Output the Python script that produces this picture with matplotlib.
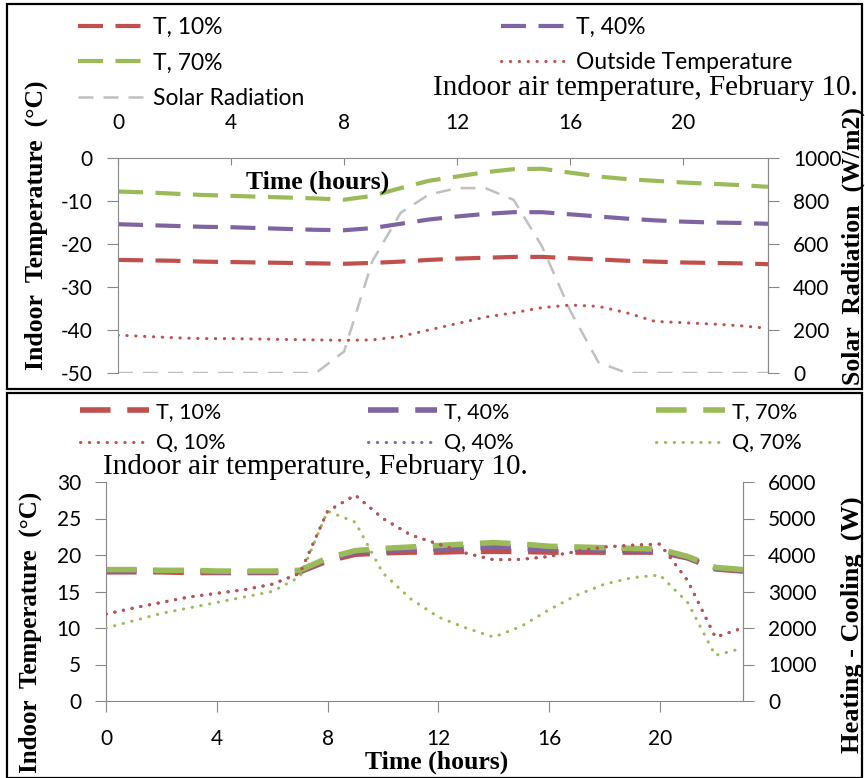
import matplotlib
matplotlib.use("Agg")
import matplotlib.pyplot as plt
from matplotlib.patches import Rectangle

# hourly data, February 10
hours = list(range(24))

# top panel: indoor temperature (°C) for 3 glazing ratios, outside temp, solar radiation
t10_top = [-23.7, -23.8, -23.9, -24.1, -24.2, -24.3, -24.4, -24.5, -24.6, -24.4, -24.1, -23.7,
           -23.4, -23.2, -23.0, -23.0, -23.3, -23.6, -23.9, -24.1, -24.3, -24.4, -24.5, -24.7]
t40_top = [-15.4, -15.6, -15.8, -16.0, -16.1, -16.3, -16.5, -16.7, -16.8, -16.3, -15.3, -14.3,
           -13.6, -13.0, -12.6, -12.6, -13.1, -13.6, -14.1, -14.5, -14.8, -15.0, -15.1, -15.3]
t70_top = [-7.8, -8.0, -8.3, -8.6, -8.8, -9.0, -9.2, -9.4, -9.7, -8.8, -7.0, -5.3,
           -4.3, -3.3, -2.6, -2.5, -3.4, -4.3, -4.9, -5.3, -5.7, -6.0, -6.3, -6.7]
outside = [-41.2, -41.5, -41.8, -42.0, -42.0, -42.1, -42.2, -42.3, -42.4, -42.3, -41.5, -40.0,
           -38.5, -37.0, -36.0, -34.8, -34.2, -34.5, -36.0, -38.0, -38.3, -38.6, -39.0, -39.6]
solar = [0, 0, 0, 0, 0, 0, 0, 0, 100, 520, 745, 830,
         860, 860, 805, 590, 290, 50, 0, 0, 0, 0, 0, 0]

# bottom panel: indoor temperature (°C) and heating - cooling load (W)
t10_bot = [17.7, 17.7, 17.7, 17.6, 17.6, 17.6, 17.6, 17.7, 19.2, 20.1, 20.3, 20.4,
           20.4, 20.5, 20.5, 20.5, 20.4, 20.4, 20.4, 20.4, 20.4, 19.6, 18.1, 17.8]
t40_bot = [17.9, 17.9, 17.8, 17.8, 17.7, 17.7, 17.7, 17.8, 19.4, 20.4, 20.6, 20.8,
           20.9, 21.0, 21.1, 21.0, 20.8, 20.8, 20.7, 20.7, 20.6, 19.7, 18.2, 17.9]
t70_bot = [18.0, 18.0, 17.9, 17.9, 17.8, 17.8, 17.8, 17.9, 19.6, 20.6, 20.9, 21.1,
           21.3, 21.5, 21.7, 21.5, 21.2, 21.1, 21.0, 20.9, 20.8, 19.8, 18.3, 18.0]
q10 = [2380, 2550, 2700, 2850, 2950, 3050, 3200, 3500, 5200, 5640, 5000, 4550,
       4300, 4050, 3870, 3880, 3960, 4100, 4220, 4270, 4300, 3300, 1750, 2000]
q40 = [2380, 2550, 2700, 2850, 2950, 3050, 3200, 3500, 5200, 5640, 5000, 4550,
       4300, 4050, 3870, 3880, 3960, 4100, 4220, 4270, 4300, 3300, 1750, 2000]
q70 = [2000, 2200, 2400, 2550, 2700, 2850, 3000, 3400, 5200, 4900, 3500, 2800,
       2300, 2000, 1750, 2050, 2500, 2900, 3200, 3380, 3450, 2700, 1250, 1450]

x_ticks = [0, 4, 8, 12, 16, 20]
title = "Indoor air temperature, February 10."

RED, PURPLE, GREEN, GRAY = "#C0504D", "#8064A2", "#9BBB59", "#C0C0C0"
AXC = "#888888"
SANS = ["Lato", "DejaVu Sans"]
SERIF = ["Liberation Serif", "DejaVu Serif"]

plt.rcParams["font.family"] = SANS
plt.rcParams["axes.unicode_minus"] = False

W, H = 865, 778
fig = plt.figure(figsize=(W / 100, H / 100), dpi=100)


def px_rect(l, t, r, b):
    return [l / W, 1 - b / H, (r - l) / W, (b - t) / H]


def fx(x):
    return x / W


def fy(y):
    return 1 - y / H


# panel frames
fig.patches.append(Rectangle((fx(7), fy(389)), 855 / W, 385 / H, transform=fig.transFigure,
                             fill=False, ec="black", lw=1.6))
fig.patches.append(Rectangle((fx(7), fy(778)), 855 / W, 385 / H, transform=fig.transFigure,
                             fill=False, ec="black", lw=1.6))

dash_t = dict(lw=3, dashes=(6, 3))
dot = dict(lw=2.2, dashes=(0.1, 2.8), dash_capstyle="round")
lab = dict(family=SERIF, weight="bold", ha="center", va="center")

# ---------- top panel ----------
ax = fig.add_axes(px_rect(118, 158, 768, 373))
ax2 = ax.twinx()
l10, = ax.plot(hours, t10_top, color=RED, label="T, 10%", **dash_t)
l40, = ax.plot(hours, t40_top, color=PURPLE, label="T, 40%", **dash_t)
l70, = ax.plot(hours, t70_top, color=GREEN, label="T, 70%", **dash_t)
lout, = ax.plot(hours, outside, color=RED, label="Outside Temperature", **dot)
lsol, = ax2.plot(hours, solar, color=GRAY, lw=1.8, dashes=(6, 4), label="Solar Radiation")
ax.set_zorder(ax2.get_zorder() + 1)
ax.patch.set_visible(False)

ax.set_xlim(0, 23)
ax.set_ylim(-50, 0)
ax2.set_ylim(0, 1000)
ax.set_yticks(range(-50, 1, 10))
ax2.set_yticks(range(0, 1001, 200))
ax.set_xticks(x_ticks)
ax.xaxis.tick_top()
ax.tick_params(axis="x", direction="in", length=5, color=AXC, pad=18, labelsize=15)
ax.tick_params(axis="y", direction="out", length=8, color=AXC, pad=10, labelsize=15)
ax2.tick_params(axis="y", direction="out", length=8, color=AXC, pad=10, labelsize=15)
for a in (ax, ax2):
    for s in a.spines.values():
        s.set_color(AXC)
    a.spines["bottom"].set_visible(False)
ax2.spines["top"].set_visible(False)
ax2.spines["left"].set_visible(False)

fig.text(fx(318), fy(182), "Time (hours)", fontsize=18.5, **lab)
fig.text(fx(36), fy(225), "Indoor  Temperature  (°C)", fontsize=18.5, rotation=90, **lab)
fig.text(fx(853), fy(246), "Solar  Radiation  (W/m2)", fontsize=18.5, rotation=90, **lab)
fig.text(fx(858), fy(88), title, family=SERIF, fontsize=21, ha="right", va="center")

fig.legend(handles=[l10, l70, lsol, l40, lout], ncol=2, loc="upper left",
           bbox_to_anchor=(fx(69), fy(8)), frameon=False, fontsize=16.5,
           handlelength=3.05, handletextpad=0.2, columnspacing=8.6, labelspacing=0.62,
           borderaxespad=0)

# ---------- bottom panel ----------
bx = fig.add_axes(px_rect(106, 482, 743, 701))
bx2 = bx.twinx()
dash_b = dict(lw=4, dashes=(5.5, 3))
b10, = bx.plot(hours, t10_bot, color=RED, label="T, 10%", **dash_b)
b40, = bx.plot(hours, t40_bot, color=PURPLE, label="T, 40%", **dash_b)
b70, = bx.plot(hours, t70_bot, color=GREEN, label="T, 70%", **dash_b)
q40l, = bx2.plot(hours, q40, color=PURPLE, label="Q, 40%", **dot)
q70l, = bx2.plot(hours, q70, color=GREEN, label="Q, 70%", **dot)
q10l, = bx2.plot(hours, q10, color=RED, label="Q, 10%", **dot)

bx.set_xlim(0, 23)
bx.set_ylim(0, 30)
bx2.set_ylim(0, 6000)
bx.set_yticks(range(0, 31, 5))
bx2.set_yticks(range(0, 6001, 1000))
bx.set_xticks(x_ticks)
bx.tick_params(axis="x", direction="out", length=8, color=AXC, pad=12, labelsize=15)
bx.tick_params(axis="y", direction="out", length=8, color=AXC, pad=10, labelsize=15)
bx2.tick_params(axis="y", direction="out", length=8, color=AXC, pad=10, labelsize=15)
for a in (bx, bx2):
    for s in a.spines.values():
        s.set_color(AXC)
    a.spines["top"].set_visible(False)
bx2.spines["left"].set_visible(False)
bx2.spines["bottom"].set_visible(False)

fig.text(fx(437), fy(762), "Time (hours)", fontsize=18.5, **lab)
fig.text(fx(30), fy(632), "Indoor  Temperature  (°C)", fontsize=18, rotation=90, **lab)
fig.text(fx(852), fy(625), "Heating - Cooling  (W)", fontsize=19, rotation=90, **lab)
fig.text(fx(103), fy(467), title, family=SERIF, fontsize=21, ha="left", va="center")

fig.legend(handles=[b10, q10l, b40, q40l, b70, q70l], ncol=3, loc="upper left",
           bbox_to_anchor=(fx(71), fy(393)), frameon=False, fontsize=15.5,
           handlelength=3.2, handletextpad=0.35, columnspacing=6.6, labelspacing=0.55,
           borderaxespad=0)

fig.savefig("out.png", dpi=100)
